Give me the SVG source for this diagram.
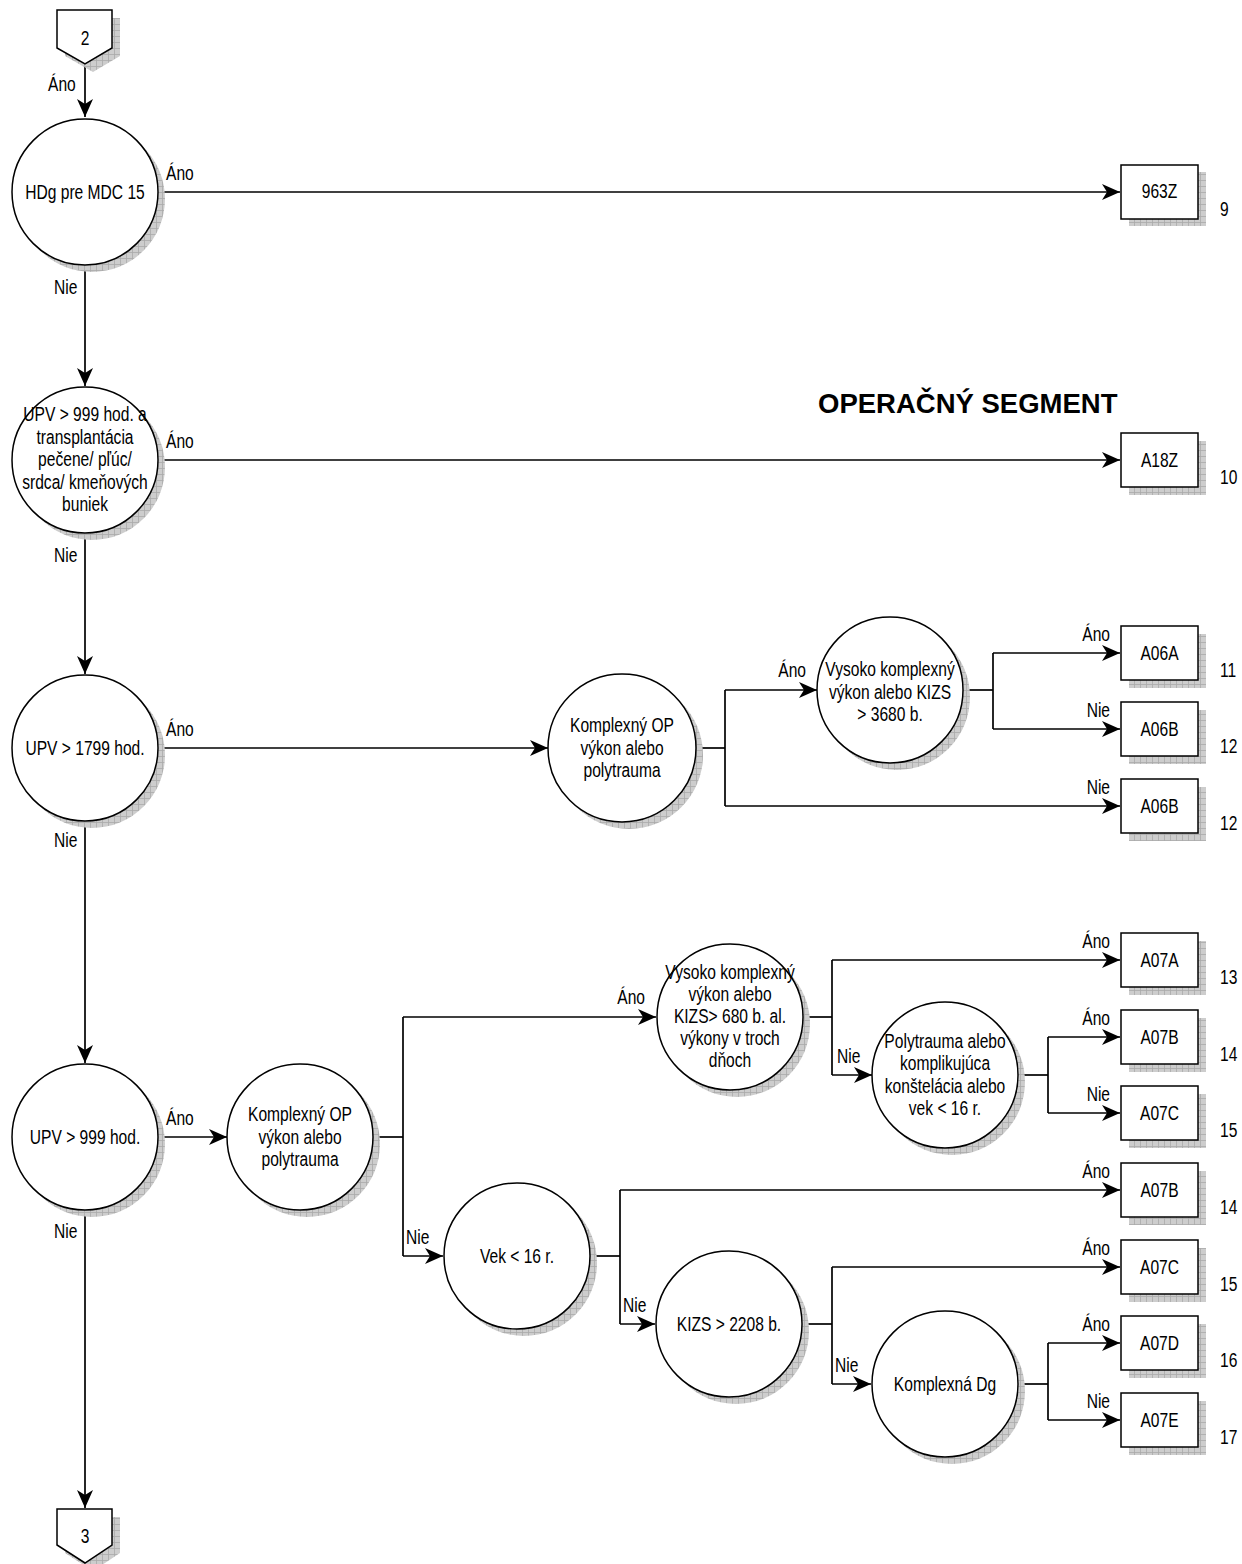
<svg xmlns="http://www.w3.org/2000/svg" width="1242" height="1564" viewBox="0 0 1242 1564">
<style>
text{font-family:"Liberation Sans",Arial,sans-serif;font-size:19.5px;fill:#000;transform-box:fill-box;transform:scaleX(.8);transform-origin:left center}
.c{text-anchor:middle;transform-origin:center center}
.e{text-anchor:end;transform-origin:right center}
.shape{fill:#fff;stroke:#000;stroke-width:1.5}
.sh{fill:url(#grid);stroke:none}
.ln{fill:none;stroke:#000;stroke-width:1.7}
.title{font-weight:bold;font-size:27.5px;transform:none}
</style>
<defs>
<pattern id="grid" width="6" height="6" patternUnits="userSpaceOnUse">
<rect width="6" height="6" fill="#cdcdcd"/>
<path d="M0,0.5H6M0.5,0V6" stroke="#aaaaaa" stroke-width="0.8"/>
</pattern>
<marker id="ar" markerUnits="userSpaceOnUse" markerWidth="20" markerHeight="18" refX="18" refY="9" orient="auto">
<path d="M0,1 L18,9 L0,17 L5,9 z" fill="#000"/>
</marker>
</defs>

<g id="connectors">
<path class="ln" d="M85,64V117" marker-end="url(#ar)"/>
<path class="ln" d="M158,192H1120" marker-end="url(#ar)"/>
<path class="ln" d="M85,265V386" marker-end="url(#ar)"/>
<path class="ln" d="M158,460H1120" marker-end="url(#ar)"/>
<path class="ln" d="M85,534V674" marker-end="url(#ar)"/>
<path class="ln" d="M158,748H548" marker-end="url(#ar)"/>
<path class="ln" d="M696,748H725"/>
<path class="ln" d="M725,690V806"/>
<path class="ln" d="M725,690H817" marker-end="url(#ar)"/>
<path class="ln" d="M725,806H1120" marker-end="url(#ar)"/>
<path class="ln" d="M963,690H993"/>
<path class="ln" d="M993,653V729"/>
<path class="ln" d="M993,653H1120" marker-end="url(#ar)"/>
<path class="ln" d="M993,729H1120" marker-end="url(#ar)"/>
<path class="ln" d="M85,821V1063" marker-end="url(#ar)"/>
<path class="ln" d="M158,1137H227" marker-end="url(#ar)"/>
<path class="ln" d="M374,1137H403"/>
<path class="ln" d="M403,1017V1256"/>
<path class="ln" d="M403,1017H656" marker-end="url(#ar)"/>
<path class="ln" d="M403,1256H443" marker-end="url(#ar)"/>
<path class="ln" d="M803,1017H832"/>
<path class="ln" d="M832,960V1075"/>
<path class="ln" d="M832,960H1120" marker-end="url(#ar)"/>
<path class="ln" d="M832,1075H872" marker-end="url(#ar)"/>
<path class="ln" d="M1018,1075H1048"/>
<path class="ln" d="M1048,1037V1113"/>
<path class="ln" d="M1048,1037H1120" marker-end="url(#ar)"/>
<path class="ln" d="M1048,1113H1120" marker-end="url(#ar)"/>
<path class="ln" d="M590,1256H620"/>
<path class="ln" d="M620,1190V1324"/>
<path class="ln" d="M620,1190H1120" marker-end="url(#ar)"/>
<path class="ln" d="M620,1324H655" marker-end="url(#ar)"/>
<path class="ln" d="M802,1324H832"/>
<path class="ln" d="M832,1267V1384"/>
<path class="ln" d="M832,1267H1120" marker-end="url(#ar)"/>
<path class="ln" d="M832,1384H871" marker-end="url(#ar)"/>
<path class="ln" d="M1018,1384H1048"/>
<path class="ln" d="M1048,1343V1420"/>
<path class="ln" d="M1048,1343H1120" marker-end="url(#ar)"/>
<path class="ln" d="M1048,1420H1120" marker-end="url(#ar)"/>
<path class="ln" d="M85,1210V1508" marker-end="url(#ar)"/>
</g>

<g id="connector-labels">
<text x="48" y="91">Áno</text>
<text x="166" y="180">Áno</text>
<text x="54" y="294">Nie</text>
<text x="166" y="448">Áno</text>
<text x="54" y="562">Nie</text>
<text x="166" y="736">Áno</text>
<text class="e" x="806" y="677">Áno</text>
<text class="e" x="1110" y="641">Áno</text>
<text class="e" x="1110" y="717">Nie</text>
<text class="e" x="1110" y="794">Nie</text>
<text x="54" y="847">Nie</text>
<text x="166" y="1125">Áno</text>
<text class="e" x="645" y="1004">Áno</text>
<text class="e" x="1110" y="948">Áno</text>
<text x="837" y="1063">Nie</text>
<text class="e" x="1110" y="1025">Áno</text>
<text class="e" x="1110" y="1101">Nie</text>
<text x="406" y="1244">Nie</text>
<text class="e" x="1110" y="1178">Áno</text>
<text x="623" y="1312">Nie</text>
<text class="e" x="1110" y="1255">Áno</text>
<text x="835" y="1372">Nie</text>
<text class="e" x="1110" y="1331">Áno</text>
<text class="e" x="1110" y="1408">Nie</text>
<text x="54" y="1238">Nie</text>
</g>

<text id="title" class="title" x="818" y="413">OPERAČNÝ SEGMENT</text>

<g id="offpage-2">
<path class="sh" d="M65,18H120V56L93,72L65,56Z"/>
<path class="shape" d="M57,10H112V48L85,64L57,48Z"/>
<text class="c" x="85" y="45">2</text>
</g>

<g id="offpage-3">
<path class="sh" d="M65,1517H120V1553L93,1571L65,1553Z"/>
<path class="shape" d="M57,1509H112V1545L85,1563L57,1545Z"/>
<text class="c" x="85" y="1543">3</text>
</g>

<g id="n-hdg">
<circle class="sh" cx="92" cy="199" r="73"/>
<circle class="shape" cx="85" cy="192" r="73"/>
<text class="c" x="85" y="199">HDg pre MDC 15</text>
</g>

<g id="n-upv999a">
<circle class="sh" cx="92" cy="467" r="73"/>
<circle class="shape" cx="85" cy="460" r="73"/>
<text class="c" x="85" y="421">UPV &gt; 999 hod. a</text>
<text class="c" x="85" y="444">transplantácia</text>
<text class="c" x="85" y="466">pečene/ pľúc/</text>
<text class="c" x="85" y="489">srdca/ kmeňových</text>
<text class="c" x="85" y="511">buniek</text>
</g>

<g id="n-upv1799">
<circle class="sh" cx="92" cy="755" r="73"/>
<circle class="shape" cx="85" cy="748" r="73"/>
<text class="c" x="85" y="755">UPV &gt; 1799 hod.</text>
</g>

<g id="n-komplexny-a">
<circle class="sh" cx="629" cy="755" r="74"/>
<circle class="shape" cx="622" cy="748" r="74"/>
<text class="c" x="622" y="732">Komplexný OP</text>
<text class="c" x="622" y="755">výkon alebo</text>
<text class="c" x="622" y="777">polytrauma</text>
</g>

<g id="n-vysoko-a">
<circle class="sh" cx="897" cy="697" r="73"/>
<circle class="shape" cx="890" cy="690" r="73"/>
<text class="c" x="890" y="676">Vysoko komplexný</text>
<text class="c" x="890" y="699">výkon alebo KIZS</text>
<text class="c" x="890" y="721">&gt; 3680 b.</text>
</g>

<g id="n-upv999">
<circle class="sh" cx="92" cy="1144" r="73"/>
<circle class="shape" cx="85" cy="1137" r="73"/>
<text class="c" x="85" y="1144">UPV &gt; 999 hod.</text>
</g>

<g id="n-komplexny-b">
<circle class="sh" cx="307" cy="1144" r="73"/>
<circle class="shape" cx="300" cy="1137" r="73"/>
<text class="c" x="300" y="1121">Komplexný OP</text>
<text class="c" x="300" y="1144">výkon alebo</text>
<text class="c" x="300" y="1166">polytrauma</text>
</g>

<g id="n-vysoko-b">
<circle class="sh" cx="737" cy="1024" r="73"/>
<circle class="shape" cx="730" cy="1017" r="73"/>
<text class="c" x="730" y="979">Vysoko komplexný</text>
<text class="c" x="730" y="1001">výkon alebo</text>
<text class="c" x="730" y="1023">KIZS&gt; 680 b. al.</text>
<text class="c" x="730" y="1045">výkony v troch</text>
<text class="c" x="730" y="1067">dňoch</text>
</g>

<g id="n-polytrauma">
<circle class="sh" cx="952" cy="1082" r="73"/>
<circle class="shape" cx="945" cy="1075" r="73"/>
<text class="c" x="945" y="1048">Polytrauma alebo</text>
<text class="c" x="945" y="1070">komplikujúca</text>
<text class="c" x="945" y="1093">konštelácia alebo</text>
<text class="c" x="945" y="1115">vek &lt; 16 r.</text>
</g>

<g id="n-vek">
<circle class="sh" cx="524" cy="1263" r="73"/>
<circle class="shape" cx="517" cy="1256" r="73"/>
<text class="c" x="517" y="1263">Vek &lt; 16 r.</text>
</g>

<g id="n-kizs">
<circle class="sh" cx="736" cy="1331" r="73"/>
<circle class="shape" cx="729" cy="1324" r="73"/>
<text class="c" x="729" y="1331">KIZS &gt; 2208 b.</text>
</g>

<g id="n-dg">
<circle class="sh" cx="952" cy="1391" r="73"/>
<circle class="shape" cx="945" cy="1384" r="73"/>
<text class="c" x="945" y="1391">Komplexná Dg</text>
</g>

<g id="b-963z"><rect class="sh" x="1129" y="172" width="77" height="54"/><rect class="shape" x="1121" y="165" width="77" height="54"/><text class="c" x="1159.5" y="198">963Z</text><text x="1220" y="216">9</text></g>
<g id="b-a18z"><rect class="sh" x="1129" y="441" width="77" height="54"/><rect class="shape" x="1121" y="433" width="77" height="54"/><text class="c" x="1159.5" y="467">A18Z</text><text x="1220" y="484">10</text></g>
<g id="b-a06a"><rect class="sh" x="1129" y="634" width="77" height="54"/><rect class="shape" x="1121" y="626" width="77" height="54"/><text class="c" x="1159.5" y="660">A06A</text><text x="1220" y="677">11</text></g>
<g id="b-a06b-1"><rect class="sh" x="1129" y="710" width="77" height="54"/><rect class="shape" x="1121" y="702" width="77" height="54"/><text class="c" x="1159.5" y="736">A06B</text><text x="1220" y="753">12</text></g>
<g id="b-a06b-2"><rect class="sh" x="1129" y="787" width="77" height="54"/><rect class="shape" x="1121" y="779" width="77" height="54"/><text class="c" x="1159.5" y="813">A06B</text><text x="1220" y="830">12</text></g>
<g id="b-a07a"><rect class="sh" x="1129" y="941" width="77" height="54"/><rect class="shape" x="1121" y="933" width="77" height="54"/><text class="c" x="1159.5" y="967">A07A</text><text x="1220" y="984">13</text></g>
<g id="b-a07b-1"><rect class="sh" x="1129" y="1018" width="77" height="54"/><rect class="shape" x="1121" y="1010" width="77" height="54"/><text class="c" x="1159.5" y="1044">A07B</text><text x="1220" y="1061">14</text></g>
<g id="b-a07c-1"><rect class="sh" x="1129" y="1094" width="77" height="54"/><rect class="shape" x="1121" y="1086" width="77" height="54"/><text class="c" x="1159.5" y="1120">A07C</text><text x="1220" y="1137">15</text></g>
<g id="b-a07b-2"><rect class="sh" x="1129" y="1171" width="77" height="54"/><rect class="shape" x="1121" y="1163" width="77" height="54"/><text class="c" x="1159.5" y="1197">A07B</text><text x="1220" y="1214">14</text></g>
<g id="b-a07c-2"><rect class="sh" x="1129" y="1248" width="77" height="54"/><rect class="shape" x="1121" y="1240" width="77" height="54"/><text class="c" x="1159.5" y="1274">A07C</text><text x="1220" y="1291">15</text></g>
<g id="b-a07d"><rect class="sh" x="1129" y="1324" width="77" height="54"/><rect class="shape" x="1121" y="1316" width="77" height="54"/><text class="c" x="1159.5" y="1350">A07D</text><text x="1220" y="1367">16</text></g>
<g id="b-a07e"><rect class="sh" x="1129" y="1401" width="77" height="54"/><rect class="shape" x="1121" y="1393" width="77" height="54"/><text class="c" x="1159.5" y="1427">A07E</text><text x="1220" y="1444">17</text></g>
</svg>
